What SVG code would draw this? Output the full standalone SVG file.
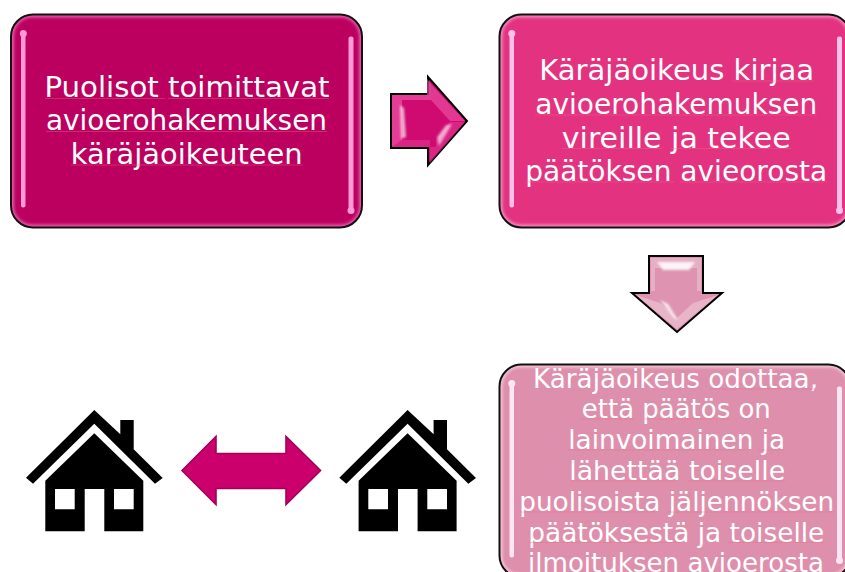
<svg xmlns="http://www.w3.org/2000/svg" xmlns:xlink="http://www.w3.org/1999/xlink" width="845" height="572" viewBox="0 0 845 572">
<style>
text{font-family:"DejaVu Sans","Liberation Sans",sans-serif;fill:#fff;text-anchor:middle}
.big{font-size:29px}
.small{font-size:26.5px}
.edge{fill:none;stroke:#111;stroke-width:2}
.rim{fill:none;stroke-width:7;opacity:.8;filter:url(#soft)}
.bar{filter:url(#soft2)}
.sq{stroke:#f06a80;stroke-width:1;opacity:.4;fill:none}
.arrow{stroke:#000;stroke-width:2;stroke-linejoin:miter}
.facet{fill:#fff;filter:url(#soft3)}
</style>
<defs>
<filter id="soft" x="-5%" y="-5%" width="110%" height="110%"><feGaussianBlur stdDeviation="1.8"/></filter>
<filter id="soft2" x="-200%" y="-5%" width="500%" height="110%"><feGaussianBlur stdDeviation="0.6"/></filter>
<filter id="soft3" x="-30%" y="-30%" width="160%" height="160%"><feGaussianBlur stdDeviation="0.8"/></filter>
<clipPath id="boxclip"><rect width="351" height="213" rx="22"/></clipPath>
<g id="gloss">
<g clip-path="url(#boxclip)"><rect class="rim" stroke="currentColor" x="-0.5" y="-0.5" width="352" height="214" rx="22"/></g>
<rect class="bar" x="10" y="17" width="4.500" height="176" rx="2"/>
<circle class="bar" cx="12.300" cy="19" r="3.500"/>
<rect class="bar" x="337.500" y="22" width="5" height="176" rx="2"/>
<circle class="bar" cx="340" cy="196" r="3.500"/>
<rect class="edge" width="351" height="213" rx="22"/>
</g>
<g id="house">
<path d="M94.3 410L120.3 434.3V420H133.7V449.3L162.7 478L155 483.7L94.3 423.7L33 483.7L26 477.7Z"/>
<path fill-rule="evenodd" d="M94.3 433.3L143.3 480.7V531.3H104.3V489H84.7V531.3H45.3V480.7ZM55 489V509.3H74.7V489ZM114 489V509.3H133.7V489Z"/>
</g>
</defs>
<rect width="845" height="572" fill="#fff"/>

<g id="connectors">
<g id="arrow-right">
<path class="arrow" fill="#cf0a70" d="M391 94H428V77L467 121L428 165V148H391Z"/>
<path fill="#f25fae" d="M392 95H427V79L431 84V100H402V140L392 147Z" opacity=".6"/>
<path fill="#f25fae" d="M431 84L465 121L450 121L431 100Z" opacity=".55"/>
<path fill="#e8409a" d="M402 140H430V163L465 122L450 122L436 140V147H392Z" opacity=".5"/>
<path class="facet" opacity=".65" d="M400 105L404 108L406 137L401 139Z"/>
<path class="facet" opacity=".6" d="M439 146L452 124L446 125L437 137Z"/>
</g>
<g id="arrow-down">
<path class="arrow" fill="#de94b0" d="M649 256H703V293H722L677 332L632 293H649Z"/>
<path fill="#fff" opacity=".25" d="M651 258H701V291H697V268H655V291H651Z"/>
<path class="facet" opacity=".85" d="M657 262H695L689 270H663Z"/>
<path fill="#fff" opacity=".3" d="M636 295L677 329L718 295L693 303L677 318L660 303Z"/>
<path class="facet" opacity=".8" d="M660 300L668 304L678 320L674 318Z"/>
</g>
<g id="arrow-both">
<path fill="#cc006c" stroke="#a3005a" stroke-width="1.6" d="M182 470.5L216 436.5V453.5H286V436.5L320.5 470.5L286 504.5V488.5H216V504.5Z"/>
</g>
</g>

<g id="node-1">
<rect x="11" y="14.5" width="351" height="213" rx="22" fill="#bc0060"/>
<use href="#gloss" x="11" y="14.5" fill="#ff9ad6" color="#f070b8"/>
<text class="big" x="187" y="97" textLength="285" lengthAdjust="spacingAndGlyphs">Puolisot toimittavat</text>
<text class="big" x="186.500" y="130" textLength="281" lengthAdjust="spacingAndGlyphs">avioerohakemuksen</text>
<text class="big" x="186.700" y="164" textLength="232" lengthAdjust="spacingAndGlyphs">käräjäoikeuteen</text>
<g class="sq"><path d="M45 98.500H165M168 98.500H329M46 131.500H327M71 165H303"/></g>
</g>

<g id="node-2">
<rect x="499.500" y="14.500" width="351" height="213" rx="22" fill="#e33380"/>
<use href="#gloss" x="499.500" y="14.500" fill="#ffc0ee" color="#f9a0cc"/>
<text class="big" x="676.700" y="80" textLength="275" lengthAdjust="spacingAndGlyphs">Käräjäoikeus kirjaa</text>
<text class="big" x="676.300" y="114" textLength="282" lengthAdjust="spacingAndGlyphs">avioerohakemuksen</text>
<text class="big" x="676.300" y="148" textLength="229" lengthAdjust="spacingAndGlyphs">vireille ja tekee</text>
<text class="big" x="676.200" y="181" textLength="302" lengthAdjust="spacingAndGlyphs">päätöksen avieorosta</text>
<g class="sq"><path d="M732 81H814M535 115H817M562 148.500H663M671 148.500H791M525 182H674M680 182H827"/></g>
</g>

<g id="node-3">
<rect x="499.500" y="364.500" width="351" height="213" rx="22" fill="#de8fab"/>
<use href="#gloss" x="499.500" y="364.500" fill="#ffe6f6" color="#f8d4e2"/>
<text class="small" x="675.500" y="388" textLength="285" lengthAdjust="spacingAndGlyphs">Käräjäoikeus odottaa,</text>
<text class="small" x="676.300" y="418" textLength="189" lengthAdjust="spacingAndGlyphs">että päätös on</text>
<text class="small" x="676.700" y="449" textLength="217" lengthAdjust="spacingAndGlyphs">lainvoimainen ja</text>
<text class="small" x="677.200" y="480" textLength="216" lengthAdjust="spacingAndGlyphs">lähettää toiselle</text>
<text class="small" x="676.700" y="511" textLength="315" lengthAdjust="spacingAndGlyphs">puolisoista jäljennöksen</text>
<text class="small" x="676.300" y="541.500" textLength="296" lengthAdjust="spacingAndGlyphs">päätöksestä ja toiselle</text>
<text class="small" x="676" y="572" textLength="296" lengthAdjust="spacingAndGlyphs">ilmoituksen avioerosta</text>
<g class="sq"><path d="M709 389H817M581 419H635M645 419H730M567 450H749M758 450H785M570 481H677M688 481H785M520 512H655M667 512H834M528 542.500H682M728 542.500H824"/></g>
</g>

<g id="house-1"><use href="#house"/></g>
<g id="house-2"><use href="#house" x="313.300"/></g>
</svg>
